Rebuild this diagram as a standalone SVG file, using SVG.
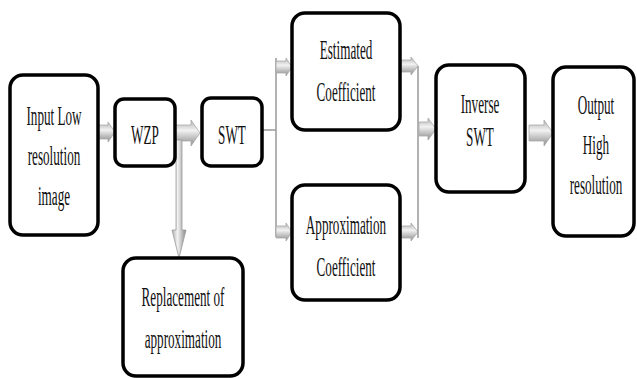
<svg xmlns="http://www.w3.org/2000/svg" width="637" height="378" viewBox="0 0 637 378">
<style>
.box{fill:#fff;stroke:#000;stroke-width:3.5}
.t{font-family:"Liberation Serif","Times New Roman",serif;font-size:28px;fill:#111;text-anchor:middle}
.ln{fill:none;stroke:#999;stroke-width:1.5}
.ar{fill:url(#gh);stroke:#aaa;stroke-width:0.8}
.av{fill:url(#gv);stroke:#999;stroke-width:0.8}
</style>
<defs>
<linearGradient id="gh" x1="0" y1="0" x2="0" y2="1">
<stop offset="0" stop-color="#b0b0b0"/>
<stop offset="0.4" stop-color="#f2f2f2"/>
<stop offset="1" stop-color="#8a8a8a"/>
</linearGradient>
<linearGradient id="gv" x1="0" y1="0" x2="1" y2="0">
<stop offset="0" stop-color="#b0b0b0"/>
<stop offset="0.4" stop-color="#f2f2f2"/>
<stop offset="1" stop-color="#8a8a8a"/>
</linearGradient>
</defs>
<rect width="637" height="378" fill="#fff"/>
<g id="connectors">
<polygon class="ar" points="98,125 108,125 108,122 115,132 108,142 108,139 98,139"/>
<polygon class="ar" points="175,125 191,125 191,120 200,133 191,146 191,141 175,141"/>
<polygon class="av" points="176,140 182,140 182,230 186,230 179,258 172,230 176,230"/>
<path class="ln" d="M262,130 H276 M276,58 V237"/>
<polygon class="ar" points="276,61 286,61 286,58 292,67 286,76 286,73 276,73"/>
<polygon class="ar" points="276,226 286,226 286,223 292,232 286,241 286,238 276,238"/>
<polygon class="ar" points="401,60 411,60 411,57 418,66 411,75 411,72 401,72"/>
<polygon class="ar" points="401,226 411,226 411,223 418,232 411,241 411,238 401,238"/>
<path class="ln" d="M418,66 V238"/>
<polygon class="ar" points="419,122 428,122 428,118 436,129 428,140 428,136 419,136"/>
<polygon class="ar" points="529,125 544,125 544,120 553,133 544,146 544,141 529,141"/>
</g>
<g id="input">
<rect class="box" x="10" y="75" width="88" height="160" rx="13"/>
<g transform="translate(54,0) scale(0.47,1)">
<text class="t" x="0" y="125">Input Low</text>
<text class="t" x="0" y="165">resolution</text>
<text class="t" x="0" y="205">image</text>
</g>
</g>
<g id="wzp">
<rect class="box" x="115" y="99" width="60" height="67" rx="9"/>
<text class="t" transform="translate(145,0) scale(0.47,1)" x="0" y="144">WZP</text>
</g>
<g id="swt">
<rect class="box" x="202" y="98" width="60" height="68" rx="9"/>
<text class="t" transform="translate(232,0) scale(0.47,1)" x="0" y="144">SWT</text>
</g>
<g id="estimated">
<rect class="box" x="292" y="13" width="108" height="117" rx="13"/>
<g transform="translate(346,0) scale(0.47,1)">
<text class="t" x="0" y="59">Estimated</text>
<text class="t" x="0" y="101">Coefficient</text>
</g>
</g>
<g id="approximation">
<rect class="box" x="292" y="185" width="108" height="115" rx="13"/>
<g transform="translate(346,0) scale(0.47,1)">
<text class="t" x="0" y="234">Approximation</text>
<text class="t" x="0" y="276">Coefficient</text>
</g>
</g>
<g id="inverse">
<rect class="box" x="436" y="65" width="89" height="127" rx="13"/>
<g transform="translate(480,0) scale(0.47,1)">
<text class="t" x="0" y="113">Inverse</text>
<text class="t" x="0" y="146">SWT</text>
</g>
</g>
<g id="output">
<rect class="box" x="553" y="67" width="81" height="169" rx="13"/>
<g transform="translate(596,0) scale(0.47,1)">
<text class="t" x="0" y="114">Output</text>
<text class="t" x="0" y="154">High</text>
<text class="t" x="0" y="194">resolution</text>
</g>
</g>
<g id="replacement">
<rect class="box" x="123" y="258" width="120" height="118" rx="13"/>
<g transform="translate(183,0) scale(0.47,1)">
<text class="t" x="0" y="306">Replacement of</text>
<text class="t" x="0" y="348">approximation</text>
</g>
</g>
</svg>
